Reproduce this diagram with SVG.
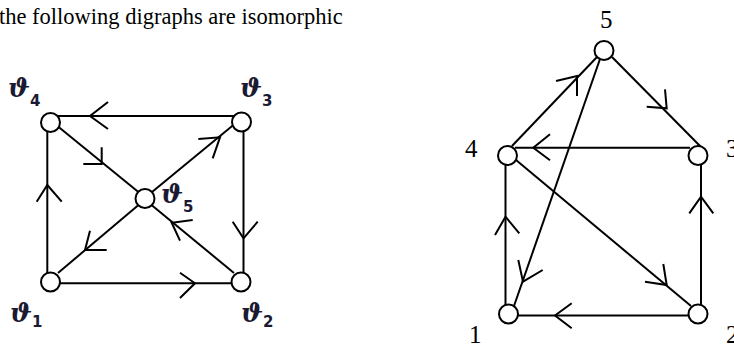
<svg xmlns="http://www.w3.org/2000/svg" width="734" height="347" viewBox="0 0 734 347">
<style>
.edge{stroke:#000;stroke-width:2;fill:none}
.arr{stroke:#000;stroke-width:2;fill:none;stroke-linejoin:miter}
.node{fill:#fff;stroke:#000;stroke-width:2}
.title{font-family:"Liberation Serif","Times New Roman",serif;font-size:22.5px;fill:#000}
.num{font-family:"Liberation Serif","Times New Roman",serif;font-size:25px;fill:#000}
.th{font-family:"DejaVu Serif","Liberation Serif",serif;font-style:italic;font-weight:bold;font-size:26px;fill:#1a1a33}
.sub{font-family:"DejaVu Sans","Liberation Sans",sans-serif;font-style:normal;font-weight:bold;font-size:15px}
</style>
<rect width="734" height="347" fill="#fff"/>
<text class="title" x="-1" y="24">the following digraphs are isomorphic</text>

<g id="connectors">
  <!-- left graph -->
  <line class="edge" x1="55" y1="116" x2="237" y2="116"/>
  <line class="edge" x1="47.3" y1="126" x2="47.3" y2="280"/>
  <line class="edge" x1="55" y1="283.3" x2="237" y2="283.3"/>
  <line class="edge" x1="243.5" y1="126" x2="243.5" y2="278"/>
  <line class="edge" x1="58" y1="126.5" x2="139" y2="192.5"/>
  <line class="edge" x1="152" y1="192" x2="234" y2="124.5"/>
  <line class="edge" x1="138.5" y1="205" x2="58" y2="273"/>
  <line class="edge" x1="234" y1="273" x2="151.5" y2="205"/>
  <polyline class="arr" points="108,102 90,116 108,129"/>
  <polyline class="arr" points="36.7,201.7 47.3,185 61.7,201.7"/>
  <polyline class="arr" points="180,272.7 195,283.3 180,298"/>
  <polyline class="arr" points="232.7,221.7 243.5,238.3 257.7,221.7"/>
  <polyline class="arr" points="83.3,164 101.7,164 101.7,147.3"/>
  <polyline class="arr" points="198.3,139 220,137.3 212.7,158.3"/>
  <polyline class="arr" points="106.7,250 85,250 90,230.7"/>
  <polyline class="arr" points="192.7,220 171.7,222.7 180,240.7"/>
  <!-- right graph -->
  <line class="edge" x1="512" y1="146" x2="597" y2="57"/>
  <line class="edge" x1="612" y1="57" x2="701" y2="147"/>
  <line class="edge" x1="515" y1="147.7" x2="690" y2="147.7"/>
  <line class="edge" x1="600" y1="59" x2="514" y2="306"/>
  <line class="edge" x1="516" y1="160" x2="691" y2="306"/>
  <line class="edge" x1="505.5" y1="164" x2="505.5" y2="305"/>
  <line class="edge" x1="701" y1="164" x2="701" y2="305"/>
  <line class="edge" x1="517" y1="315.5" x2="690" y2="315.5"/>
  <polyline class="arr" points="556,81 577,76 577,96"/>
  <polyline class="arr" points="646.7,106.7 666.7,108.3 665,89.3"/>
  <polyline class="arr" points="550,134.3 533.3,147.7 550,160.3"/>
  <polyline class="arr" points="518.3,260 523,281.7 542.7,270"/>
  <polyline class="arr" points="645,281.7 666.7,285 663.3,264"/>
  <polyline class="arr" points="495,235 505.5,216.7 519.3,233.3"/>
  <polyline class="arr" points="689.3,213.3 701,196.7 713.3,213.3"/>
  <polyline class="arr" points="571.7,303.3 555,315.5 571.7,328.3"/>
</g>

<g id="v4"><circle class="node" cx="50.5" cy="122.5" r="9.5"/><text class="th" x="8" y="97">ϑ<tspan class="sub" dx="0" dy="9">4</tspan></text></g>
<g id="v3"><circle class="node" cx="241.5" cy="122" r="9.5"/><text class="th" x="240" y="97">ϑ<tspan class="sub" dx="0" dy="9">3</tspan></text></g>
<g id="v5"><circle class="node" cx="145" cy="198.5" r="9.5"/><text class="th" x="161" y="203">ϑ<tspan class="sub" dx="0" dy="9">5</tspan></text></g>
<g id="v1"><circle class="node" cx="50.5" cy="282" r="9.5"/><text class="th" x="10" y="322">ϑ<tspan class="sub" dx="0" dy="5">1</tspan></text></g>
<g id="v2"><circle class="node" cx="241" cy="282" r="9.5"/><text class="th" x="241" y="322">ϑ<tspan class="sub" dx="0" dy="5">2</tspan></text></g>

<g id="n5"><circle class="node" cx="604" cy="50.5" r="9.5"/><text class="num" x="600" y="28">5</text></g>
<g id="n4"><circle class="node" cx="507.5" cy="155.5" r="9.5"/><text class="num" x="465" y="157">4</text></g>
<g id="n3"><circle class="node" cx="698" cy="155.5" r="9.5"/><text class="num" x="726" y="157">3</text></g>
<g id="n1"><circle class="node" cx="508.5" cy="314" r="9.5"/><text class="num" x="469" y="343">1</text></g>
<g id="n2"><circle class="node" cx="698" cy="314" r="9.5"/><text class="num" x="726" y="343">2</text></g>
</svg>
